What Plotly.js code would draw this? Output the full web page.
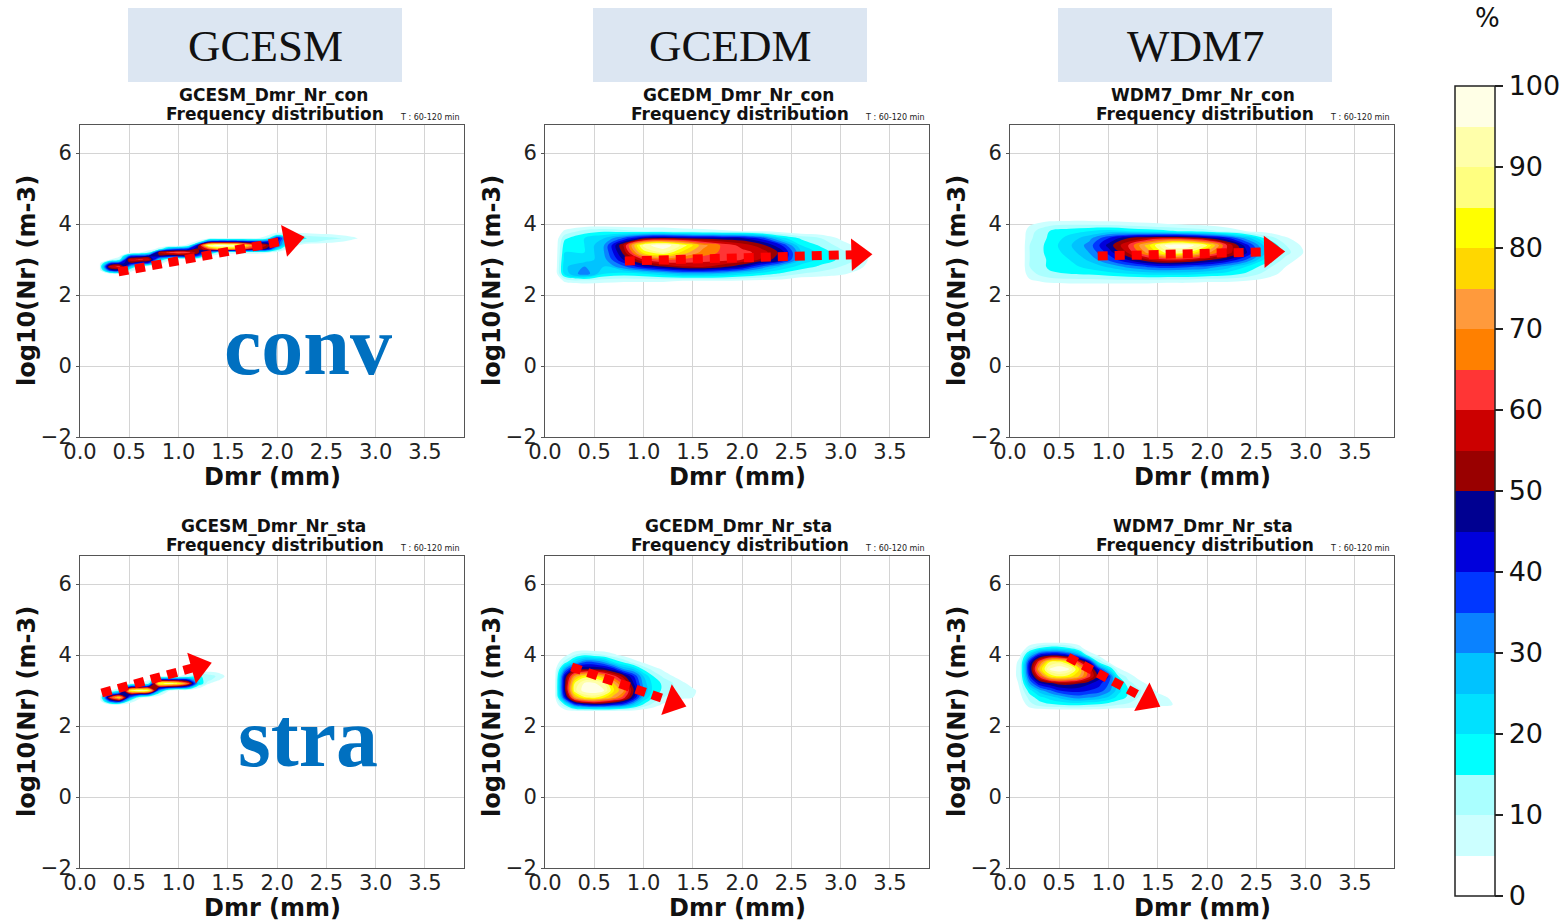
<!DOCTYPE html>
<html><head><meta charset="utf-8">
<script src="https://cdn.plot.ly/plotly-3.0.1.min.js"></script>
<style>html,body{margin:0;padding:0;background:#fff}#chart{width:1565px;height:923px}</style>
</head><body><div id="chart"></div>
<script>
// ---------------- DATA ----------------
const models = ['GCESM', 'GCEDM', 'WDM7'];
const regimes = ['con', 'sta'];
const regimeLabels = ['conv', 'stra'];
const xTickVals = [0, 0.5, 1.0, 1.5, 2.0, 2.5, 3.0, 3.5];
const yTickVals = [-2, 0, 2, 4, 6];
const cbTickVals = [0, 10, 20, 30, 40, 50, 60, 70, 80, 90, 100];
const levelColors = ['rgba(255,255,255,0)', '#ccffff', '#aaffff', '#00ffff', '#00e1ff', '#00c3ff',
  '#0a82ff', '#0037ff', '#0000dc', '#000091', '#990000', '#cc0000', '#ff3535',
  '#ff8000', '#ff9a3c', '#ffd700', '#ffff00', '#ffff80', '#ffffaa', '#ffffe6'];

// GCESM convective
const gcesmConX = [0.2,0.3,0.4,0.5,0.6,0.7,0.8,0.9,1.0,1.1,1.2,1.3,1.4,1.5,1.6,1.7,1.8,1.9,2.0,2.1,2.2,2.3,2.4,2.5,2.6,2.7,2.8,2.9];
const gcesmConY = [2.6,2.7,2.8,2.9,3.0,3.1,3.2,3.3,3.4,3.5,3.6,3.7,3.8];
const gcesmConZ = [
  [0,5,6,0,0,0,0,0,0,0,0,0,0,0,0,0,0,0,0,0,0,0,0,0,0,0,0,0],
  [4,40,45,12,0,0,0,0,0,0,0,0,0,0,0,0,0,0,0,0,0,0,0,0,0,0,0,0],
  [8,58,62,30,8,0,0,0,0,0,0,0,0,0,0,0,0,0,0,0,0,0,0,0,0,0,0,0],
  [3,35,42,48,42,38,10,0,0,0,0,0,0,0,0,0,0,0,0,0,0,0,0,0,0,0,0,0],
  [0,4,12,58,62,58,25,8,0,0,0,0,0,0,0,0,0,0,0,0,0,0,0,0,0,0,0,0],
  [0,0,3,35,40,45,48,45,45,45,35,8,0,0,0,0,0,0,0,0,0,0,0,0,0,0,0,0],
  [0,0,0,0,4,12,55,62,66,62,52,30,12,8,8,8,8,6,3,0,0,0,0,0,0,0,0,0],
  [0,0,0,0,0,0,8,30,35,40,50,62,75,75,70,60,55,48,20,6,0,0,0,0,0,0,0,0],
  [0,0,0,0,0,0,0,0,0,8,48,92,100,98,94,78,64,54,40,14,6,0,0,0,0,0,0,0],
  [0,0,0,0,0,0,0,0,0,0,8,40,45,45,45,42,40,42,42,20,14,12,10,8,6,4,0,0],
  [0,0,0,0,0,0,0,0,0,0,0,3,5,5,5,5,5,12,46,24,18,15,13,12,11,9,6,0],
  [0,0,0,0,0,0,0,0,0,0,0,0,0,0,0,0,0,3,12,10,9,8,7,6,5,3,0,0],
  [0,0,0,0,0,0,0,0,0,0,0,0,0,0,0,0,0,0,0,0,0,0,0,0,0,0,0,0]
];

// GCEDM convective
const gcedmConX = [0.1,0.2,0.4,0.6,0.8,1.0,1.2,1.4,1.6,1.8,2.0,2.2,2.4,2.6,2.8,3.0,3.2,3.4];
const gcedmConY = [2.2,2.4,2.6,2.8,3.0,3.2,3.4,3.6,3.8,4.0];
const gcedmConZ = [
  [0,0,0,0,0,0,0,0,0,0,0,0,0,0,0,0,0,0],
  [0,6,8,7,6,6,6,5,5,5,4,3,3,0,0,0,0,0],
  [0,22,34,20,18,20,24,28,28,26,22,18,14,10,8,6,3,0],
  [0,24,30,25,34,44,50,55,56,52,46,34,24,18,14,10,6,0],
  [0,22,22,28,46,60,66,64,62,62,60,54,46,24,18,14,8,0],
  [0,20,20,30,52,82,90,78,68,64,62,58,48,25,18,12,6,0],
  [0,18,20,30,56,92,100,88,72,64,58,52,40,20,14,8,3,0],
  [0,14,20,25,36,48,52,50,48,47,46,38,22,14,10,4,0,0],
  [0,6,12,14,12,10,10,8,7,6,5,4,2,0,0,0,0,0],
  [0,0,0,0,0,0,0,0,0,0,0,0,0,0,0,0,0,0]
];

// WDM7 convective
const wdm7ConX = [0.1,0.2,0.4,0.6,0.8,1.0,1.2,1.4,1.6,1.8,2.0,2.2,2.4,2.6,2.8,3.0,3.2];
const wdm7ConY = [2.2,2.4,2.6,2.8,3.0,3.2,3.4,3.6,3.8,4.0,4.2];
const wdm7ConZ = [
  [0,0,0,0,0,0,0,0,0,0,0,0,0,0,0,0,0],
  [0,4,7,8,8,8,8,8,7,7,6,6,5,3,0,0,0],
  [0,8,14,15,16,18,20,22,22,22,20,18,14,8,3,0,0],
  [0,10,16,18,22,26,32,36,38,36,34,28,20,12,5,0,0],
  [0,10,16,20,26,36,46,55,60,58,52,46,35,18,8,2,0],
  [0,10,17,22,30,42,56,72,88,85,72,58,46,24,12,4,0],
  [0,10,17,24,32,47,60,78,98,100,85,60,42,22,10,3,0],
  [0,9,16,22,28,40,50,55,58,56,50,42,28,14,6,0,0],
  [0,8,15,18,20,22,20,18,16,14,12,8,5,3,0,0,0],
  [0,4,8,9,9,8,7,6,5,4,3,2,0,0,0,0,0],
  [0,0,0,0,0,0,0,0,0,0,0,0,0,0,0,0,0]
];

// GCESM stratiform
const gcesmStaX = [0.2,0.3,0.4,0.5,0.6,0.7,0.8,0.9,1.0,1.1,1.2,1.3,1.4,1.5];
const gcesmStaY = [2.6,2.7,2.8,2.9,3.0,3.1,3.2,3.3,3.4,3.5,3.6];
const gcesmStaZ = [
  [0,3,4,0,0,0,0,0,0,0,0,0,0,0],
  [0,35,45,12,0,0,0,0,0,0,0,0,0,0],
  [3,60,80,35,8,0,0,0,0,0,0,0,0,0],
  [0,30,45,50,45,40,10,0,0,0,0,0,0,0],
  [0,3,15,85,96,88,30,6,0,0,0,0,0,0],
  [0,0,3,40,45,50,52,48,45,35,8,0,0,0],
  [0,0,0,3,6,15,88,92,84,64,24,6,0,0],
  [0,0,0,0,0,5,40,45,45,40,18,12,6,0],
  [0,0,0,0,0,0,3,5,5,10,16,13,9,3],
  [0,0,0,0,0,0,0,0,0,3,7,7,5,0],
  [0,0,0,0,0,0,0,0,0,0,0,0,0,0]
];

// GCEDM stratiform
const gcedmStaX = [0,0.1,0.2,0.3,0.4,0.5,0.6,0.7,0.8,0.9,1.0,1.1,1.2,1.3,1.4,1.5,1.6,1.7];
const gcedmStaY = [2.4,2.6,2.8,3.0,3.2,3.4,3.6,3.8,4.0,4.2];
const gcedmStaZ = [
  [0,0,0,0,0,0,0,0,0,0,0,0,0,0,0,0,0,0],
  [0,0,15,35,42,45,44,40,35,25,14,8,4,2,0,0,0,0],
  [0,3,40,72,84,86,80,72,62,45,25,15,10,8,6,5,3,0],
  [0,4,48,88,98,100,95,80,70,50,30,18,14,10,8,6,3,0],
  [0,4,48,85,96,96,90,75,62,45,28,18,14,10,6,3,0,0],
  [0,3,45,72,82,80,72,62,52,40,25,15,9,5,2,0,0,0],
  [0,2,30,48,50,50,48,42,30,25,14,8,4,0,0,0,0,0],
  [0,0,12,25,35,35,30,20,14,8,4,0,0,0,0,0,0,0],
  [0,0,3,10,14,12,10,6,3,0,0,0,0,0,0,0,0,0],
  [0,0,0,0,0,0,0,0,0,0,0,0,0,0,0,0,0,0]
];

// WDM7 stratiform
const wdm7StaX = [0,0.1,0.2,0.3,0.4,0.5,0.6,0.7,0.8,0.9,1.0,1.1,1.2,1.3,1.4,1.5,1.6,1.7,1.8];
const wdm7StaY = [2.4,2.6,2.8,3.0,3.2,3.4,3.6,3.8,4.0,4.2,4.4];
const wdm7StaZ = [
  [0,0,0,0,0,0,0,0,0,0,0,0,0,0,0,0,0,0,0],
  [0,0,8,12,14,15,16,16,15,14,12,10,9,8,7,6,6,4,0],
  [0,3,12,18,22,26,30,32,30,28,24,18,14,10,8,7,5,0,0],
  [0,5,18,28,34,40,42,42,40,38,32,22,15,11,8,4,0,0,0],
  [0,6,30,44,48,52,52,50,46,42,35,22,12,8,4,0,0,0,0],
  [0,8,40,62,80,85,82,75,62,48,40,15,8,3,0,0,0,0,0],
  [0,8,45,75,95,100,95,80,60,40,22,6,2,0,0,0,0,0,0],
  [0,7,42,65,85,88,80,62,45,15,5,0,0,0,0,0,0,0,0],
  [0,4,25,42,46,46,40,30,10,4,0,0,0,0,0,0,0,0,0],
  [0,0,8,15,18,18,15,8,0,0,0,0,0,0,0,0,0,0,0],
  [0,0,0,0,0,0,0,0,0,0,0,0,0,0,0,0,0,0,0]
];

// trend arrows (start -> arrow head)
const gcesmConArrowX = [0.39, 2.14], gcesmConArrowY = [2.65, 3.56];
const gcedmConArrowX = [0.81, 3.18], gcedmConArrowY = [2.96, 3.14];
const wdm7ConArrowX  = [0.89, 2.65], wdm7ConArrowY  = [3.10, 3.22];
const gcesmStaArrowX = [0.22, 1.20], gcesmStaArrowY = [2.93, 3.68];
const gcedmStaArrowX = [0.27, 1.30], gcedmStaArrowY = [3.66, 2.68];
const wdm7StaArrowX  = [0.59, 1.40], wdm7StaArrowY  = [3.94, 2.73];

// ---------------- BUILD ----------------
const W = 1565, H = 923;
const fx = p => p / W;
const fy = p => 1 - p / H;
const FONT = 'DejaVu Sans';

const panels = [
  {x: gcesmConX, y: gcesmConY, z: gcesmConZ, ax: gcesmConArrowX, ay: gcesmConArrowY},
  {x: gcedmConX, y: gcedmConY, z: gcedmConZ, ax: gcedmConArrowX, ay: gcedmConArrowY},
  {x: wdm7ConX,  y: wdm7ConY,  z: wdm7ConZ,  ax: wdm7ConArrowX,  ay: wdm7ConArrowY},
  {x: gcesmStaX, y: gcesmStaY, z: gcesmStaZ, ax: gcesmStaArrowX, ay: gcesmStaArrowY},
  {x: gcedmStaX, y: gcedmStaY, z: gcedmStaZ, ax: gcedmStaArrowX, ay: gcedmStaArrowY},
  {x: wdm7StaX,  y: wdm7StaY,  z: wdm7StaZ,  ax: wdm7StaArrowX,  ay: wdm7StaArrowY}
];

// discrete colour scale aligned with contour levels 0..100 step 5
const toP = v => (v + 2.5) / 105;
const colorscale = [[0, levelColors[0]]];
levelColors.forEach((c, k) => {
  colorscale.push([toP(5 * k), c]);
  colorscale.push([toP(5 * k + 5), c]);
});
colorscale.push([1, levelColors[levelColors.length - 1]]);

const colLeft = [80, 545, 1010], plotW = 384;
const rowTop = [125, 556], plotH = 312;

const data = [];
const layout = {
  width: W, height: H,
  margin: {l: 0, r: 0, t: 0, b: 0},
  paper_bgcolor: '#ffffff', plot_bgcolor: '#ffffff',
  showlegend: false,
  font: {family: FONT, color: '#111'},
  shapes: [], annotations: []
};

panels.forEach((p, i) => {
  const n = i + 1;
  const sfx = n === 1 ? '' : String(n);
  const col = i % 3, row = Math.floor(i / 3);
  const l = colLeft[col], t = rowTop[row];
  data.push({
    type: 'contour', x: p.x, y: p.y, z: p.z,
    xaxis: 'x' + sfx, yaxis: 'y' + sfx,
    autocontour: false,
    contours: {start: 0, end: 100, size: 5, coloring: 'fill', showlines: false},
    line: {width: 0, smoothing: 1.0},
    colorscale: colorscale, zmin: 0, zmax: 100,
    showscale: i === 0,
    colorbar: {
      x: fx(1455), xanchor: 'left', xpad: 0,
      y: fy(491), yanchor: 'middle', ypad: 0,
      len: 810 / H, lenmode: 'fraction',
      thickness: 40, thicknessmode: 'pixels',
      outlinewidth: 1.5, outlinecolor: '#222',
      tickvals: cbTickVals, ticks: 'outside', ticklen: 8, tickwidth: 1.5, tickcolor: '#222',
      tickfont: {family: FONT, size: 27, color: '#111'}
    },
    hoverinfo: 'skip'
  });
  data.push({
    type: 'scatter', mode: 'lines+markers', x: p.ax, y: p.ay,
    xaxis: 'x' + sfx, yaxis: 'y' + sfx, opacity: 1,
    line: {color: '#ff0000', width: 9, dash: '10px,7px'},
    marker: {symbol: 'triangle-up', size: [0, 28], color: '#ff0000', opacity: 1, angleref: 'previous', line: {width: 0}},
    hoverinfo: 'skip'
  });
  const common = {
    showline: true, mirror: true, linecolor: '#555', linewidth: 1,
    showgrid: true, gridcolor: '#d4d4d4', gridwidth: 1, zeroline: false,
    tickfont: {family: FONT, size: 21, color: '#222'}
  };
  layout['xaxis' + sfx] = Object.assign({}, common, {
    domain: [fx(l), fx(l + plotW)], anchor: 'y' + sfx, range: [0, 3.896],
    ticks: '', ticklabelstandoff: -4,
    tickvals: xTickVals, ticktext: xTickVals.map(v => v.toFixed(1))
  });
  layout['yaxis' + sfx] = Object.assign({}, common, {
    domain: [fy(t + plotH), fy(t)], anchor: 'x' + sfx, range: [-2, 6.79],
    ticks: 'outside', ticklen: 3, tickcolor: '#555',
    tickvals: yTickVals
  });
  const cx = l + plotW / 2;
  const model = models[col], reg = regimes[row];
  layout.annotations.push(
    {xref: 'paper', yref: 'paper', x: fx(cx + 1), y: fy(t - 30), text: model + '_Dmr_Nr_' + reg,
     showarrow: false, xanchor: 'center', yanchor: 'middle', font: {family: FONT, size: 17, weight: 'bold', color: '#111'}},
    {xref: 'paper', yref: 'paper', x: fx(cx + 3), y: fy(t - 11), text: 'Frequency distribution',
     showarrow: false, xanchor: 'center', yanchor: 'middle', font: {family: FONT, size: 17, weight: 'bold', color: '#111'}},
    {xref: 'paper', yref: 'paper', x: fx(l + plotW - 2), y: fy(t - 8), text: 'T : 60-120 min',
     showarrow: false, xanchor: 'right', yanchor: 'middle', font: {family: FONT, size: 8, color: '#222'}},
    {xref: 'paper', yref: 'paper', x: fx(cx), y: fy(t + plotH + 40), text: 'Dmr (mm)',
     showarrow: false, xanchor: 'center', yanchor: 'middle', font: {family: FONT, size: 24, weight: 'bold', color: '#111'}},
    {xref: 'paper', yref: 'paper', x: fx(l - 53), y: fy(t + plotH / 2), text: 'log10(Nr) (m-3)', textangle: -90,
     showarrow: false, xanchor: 'center', yanchor: 'middle', font: {family: FONT, size: 24, weight: 'bold', color: '#111'}}
  );
});

// model header boxes
const headerLeft = [128, 593, 1058];
models.forEach((m, k) => {
  const l = headerLeft[k];
  layout.shapes.push({type: 'rect', xref: 'paper', yref: 'paper', x0: fx(l), x1: fx(l + 274), y0: fy(82), y1: fy(8),
    fillcolor: '#dce6f2', line: {width: 0}, layer: 'below'});
  layout.annotations.push({xref: 'paper', yref: 'paper', x: fx(l + 137), y: fy(46), text: m, showarrow: false,
    xanchor: 'center', yanchor: 'middle', font: {family: 'Liberation Serif', size: 45, color: '#111'}});
});

// regime labels
const regimeLabelY = [345, 737];
regimeLabels.forEach((r, k) => {
  layout.annotations.push({xref: 'paper', yref: 'paper', x: fx(308), y: fy(regimeLabelY[k]), text: r, showarrow: false,
    xanchor: 'center', yanchor: 'middle', font: {family: 'Liberation Serif', size: 84, weight: 'bold', color: '#0070c0'}});
});

// colour bar unit
layout.annotations.push({xref: 'paper', yref: 'paper', x: fx(1487), y: fy(18), text: '%', showarrow: false,
  xanchor: 'center', yanchor: 'middle', font: {family: FONT, size: 26, color: '#111'}});

Plotly.newPlot('chart', data, layout, {staticPlot: true, displayModeBar: false});
</script>
</body></html>
